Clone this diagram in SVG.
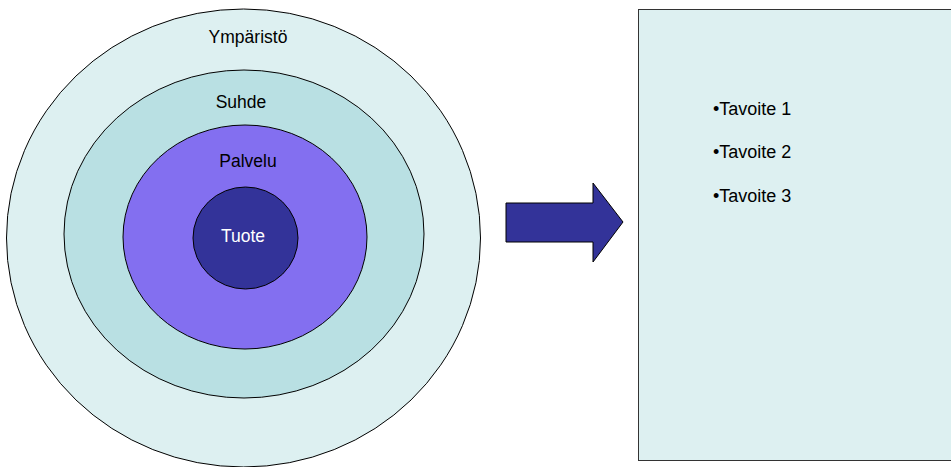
<svg xmlns="http://www.w3.org/2000/svg" width="951" height="467" viewBox="0 0 951 467">
<style>
.ring{stroke:#000;stroke-width:1}
.lbl{font-family:"Liberation Sans",Arial,sans-serif;font-size:17.5px;fill:#000;text-anchor:middle}
.item{font-family:"Liberation Sans",Arial,sans-serif;font-size:18px;fill:#000}
</style>
<rect width="951" height="467" fill="#fff"/>
<g id="ymparisto">
<ellipse class="ring" cx="243.5" cy="238" rx="237" ry="229" fill="#DDF0F1"/>
<text class="lbl" x="248" y="43">Ympäristö</text>
</g>
<g id="suhde">
<ellipse class="ring" cx="244" cy="234" rx="180" ry="164" fill="#B9E0E3"/>
<text class="lbl" x="241" y="108">Suhde</text>
</g>
<g id="palvelu">
<ellipse class="ring" cx="245" cy="237" rx="122" ry="112" fill="#836FF0"/>
<text class="lbl" x="248" y="167">Palvelu</text>
</g>
<g id="tuote">
<ellipse class="ring" cx="245.5" cy="238" rx="52.5" ry="51" fill="#333399"/>
<text class="lbl" x="243" y="242" style="fill:#fff">Tuote</text>
</g>
<g id="connectors">
<path d="M506,203 H593 V183 L623,222 L593,262 V242 H506 Z" fill="#333399" stroke="#000" stroke-width="1"/>
</g>
<g id="tavoitteet">
<rect x="638.5" y="9.5" width="320" height="451" fill="#DDF0F1" stroke="#333" stroke-width="1"/>
<text class="item" x="713" y="115">•Tavoite 1</text>
<text class="item" x="713" y="158">•Tavoite 2</text>
<text class="item" x="713" y="202">•Tavoite 3</text>
</g>
</svg>
